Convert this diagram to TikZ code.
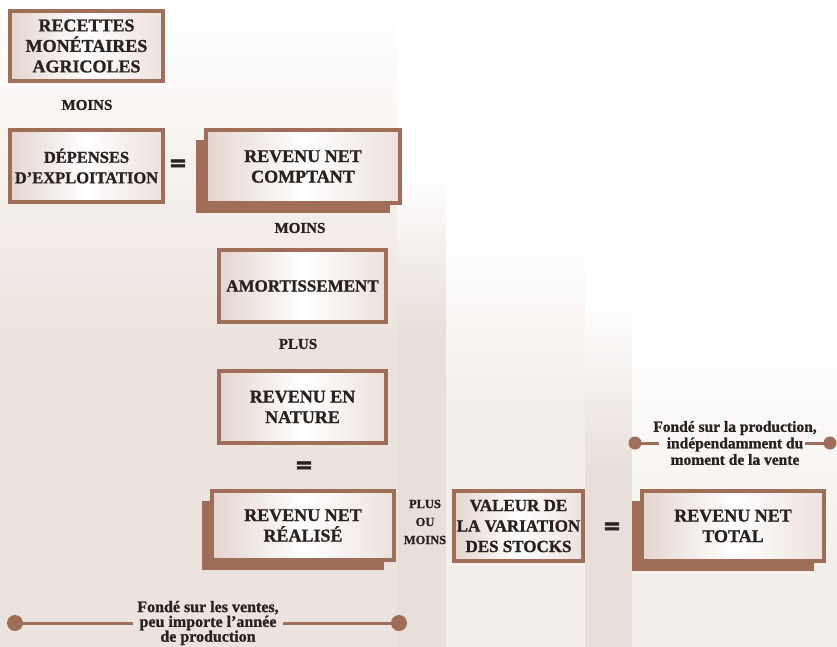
\documentclass[tikz,border=0pt]{standalone}
\usepackage{fontspec}
\setmainfont{Liberation Serif}[BoldFeatures={FakeBold=1.2}]
\newfontfamily\egalfont{DejaVu Sans}[FakeBold=3]
\usepackage{xcolor}
\usetikzlibrary{positioning,shadows}

\definecolor{brun}{HTML}{9E6E58}
\definecolor{fond}{HTML}{EDE3DE}
\definecolor{bandefonce}{HTML}{E9DFDA}
\definecolor{bandeclair}{HTML}{F4EEEB}
\definecolor{boite}{HTML}{E4D4CE}
\definecolor{encre}{HTML}{2A2220}

\tikzset{
  bloc/.style={draw=brun, line width=4pt, left color=boite, right color=boite!70!white,
    middle color=white, inner sep=0pt, outer sep=0pt, minimum height=70pt,
    align=center, text=encre, font=\bfseries\fontsize{18}{20.5}\selectfont},
  ombre/.style={drop shadow={shadow xshift=-10pt, shadow yshift=-10pt, fill=brun, opacity=1}},
  mot/.style={text=encre, font=\bfseries\fontsize{15}{18}\selectfont, align=center, inner sep=0pt},
  egal/.style={text=encre, font=\egalfont\bfseries\fontsize{22}{22}\selectfont, inner sep=0pt},
  note/.style={text=encre, font=\bfseries\fontsize{16}{14.8}\selectfont, align=center, inner sep=4pt},
  trait/.style={brun, line width=3pt},
}

\begin{document}
\begin{tikzpicture}[x=1pt, y=-1pt]
\useasboundingbox (0,0) rectangle (837,647);
% fond
\fill[fond] (0,0) rectangle (837,647);
\shade[top color=white, bottom color=fond] (0,0) rectangle (397,340);
\foreach \xa/\xb/\ya/\yb/\teinte in {397/446/170/330/bandefonce, 446/585/230/400/bandeclair,
    585/632/300/470/bandefonce, 632/837/340/560/bandeclair}{
  \fill[white] (\xa,0) rectangle (\xb,\ya);
  \shade[top color=white, bottom color=\teinte] (\xa,\ya) rectangle (\xb,\yb);
  \fill[\teinte] (\xa,\yb) rectangle (\xb,647);
}

% blocs
\node[bloc, minimum width=153pt] (recettes) at (86.5,46) {RECETTES\\MONÉTAIRES\\AGRICOLES};
\node[mot] (moins1) at (87,105) {MOINS};
\node[bloc, minimum width=153pt, minimum height=72pt, font=\bfseries\fontsize{16.5}{20.5}\selectfont] (depenses) at (86.5,166) {DÉPENSES\\D'EXPLOITATION};
\node[egal] (egal1) at (178,165) {=};
\node[bloc, ombre, minimum width=194pt, minimum height=73pt] (comptant) at (303,166.5) {REVENU NET\\COMPTANT};
\node[mot] (moins2) at (300,228) {MOINS};
\node[bloc, minimum width=167pt, minimum height=72pt, font=\bfseries\fontsize{17}{20.5}\selectfont] (amort) at (302.5,286) {AMORTISSEMENT};
\node[mot] (plus1) at (298,344) {PLUS};
\node[bloc, minimum width=167pt, minimum height=72pt] (nature) at (302.5,407) {REVENU EN\\NATURE};
\node[egal] (egal2) at (304,467) {=};
\node[bloc, ombre, minimum width=182pt, minimum height=69pt] (realise) at (303,525.5) {REVENU NET\\RÉALISÉ};
\node[mot, font=\bfseries\fontsize{12.5}{18}\selectfont] (pom) at (425,522) {PLUS\\OU\\MOINS};
\node[bloc, minimum width=129pt, font=\bfseries\fontsize{17}{20.5}\selectfont] (stocks) at (518.5,526) {VALEUR DE\\LA VARIATION\\DES STOCKS};
\node[egal] (egal3) at (612,528) {=};
\node[bloc, ombre, minimum width=182pt] (total) at (733,526) {REVENU NET\\TOTAL};

% notes
\node[note] (ventes) at (208,623) {Fondé sur les ventes,\\peu importe l'année\\de production};
\coordinate (ventesG) at (15,623);
\coordinate (ventesD) at (399,623);
\draw[trait] (ventesG) -- (ventes.west);
\draw[trait] (ventes.east) -- (ventesD);
\fill[brun] (ventesG) circle (8);
\fill[brun] (ventesD) circle (8);

\node[note, font=\bfseries\fontsize{15.5}{16.5}\selectfont, inner sep=0pt] (prod) at (735,443) {Fondé sur la production,\\indépendamment du\\moment de la vente};
\coordinate (prodG) at (635,443);
\coordinate (prodD) at (830,443);
\draw[trait] (prodG) -- ([xshift=6pt]prod.west);
\draw[trait] ([xshift=-12pt]prod.east) -- (prodD);
\fill[brun] (prodG) circle (6.5);
\fill[brun] (prodD) circle (6.5);
\end{tikzpicture}
\end{document}
